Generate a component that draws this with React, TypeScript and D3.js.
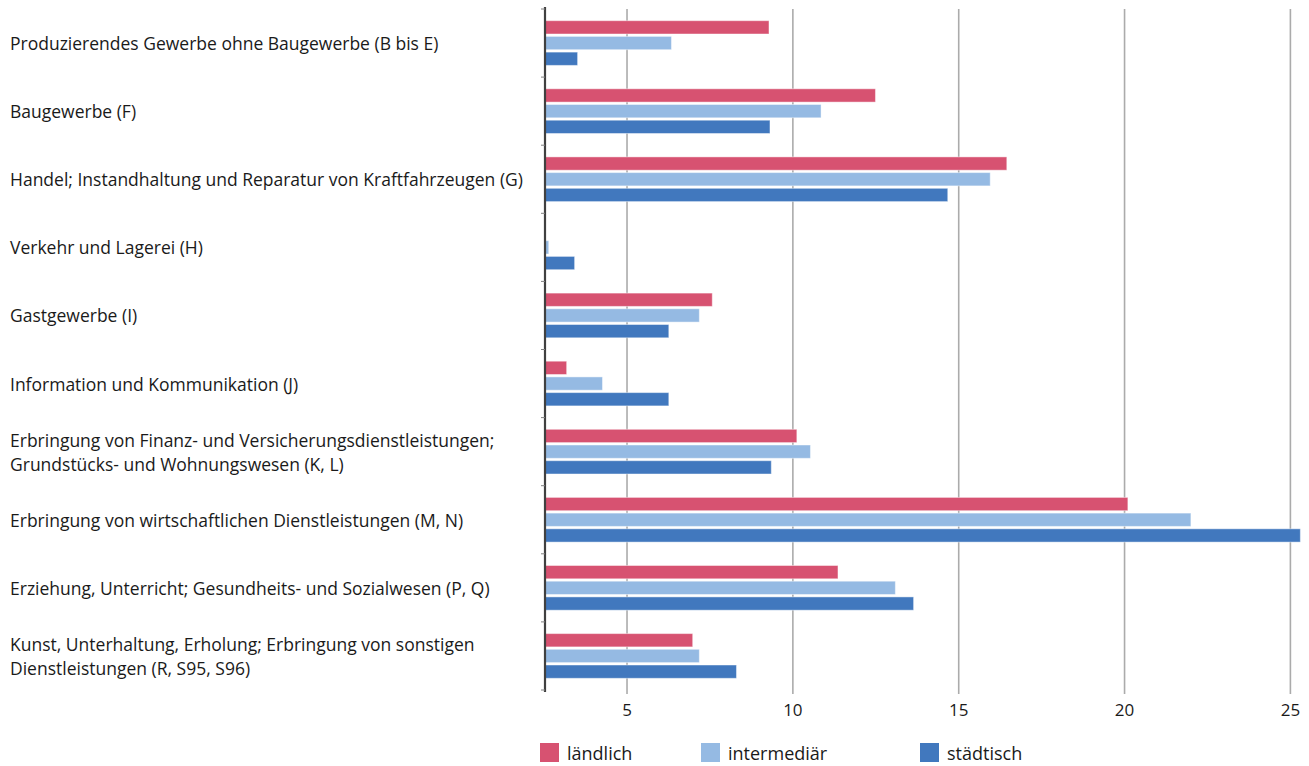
import React from "react";
import * as d3 from "d3";

const categories: string[][] = [
  ["Produzierendes Gewerbe ohne Baugewerbe (B bis E)"],
  ["Baugewerbe (F)"],
  ["Handel; Instandhaltung und Reparatur von Kraftfahrzeugen (G)"],
  ["Verkehr und Lagerei (H)"],
  ["Gastgewerbe (I)"],
  ["Information und Kommunikation (J)"],
  ["Erbringung von Finanz- und Versicherungsdienstleistungen;", "Grundstücks- und Wohnungswesen (K, L)"],
  ["Erbringung von wirtschaftlichen Dienstleistungen (M, N)"],
  ["Erziehung, Unterricht; Gesundheits- und Sozialwesen (P, Q)"],
  ["Kunst, Unterhaltung, Erholung; Erbringung von sonstigen", "Dienstleistungen (R, S95, S96)"],
];

const seriesNames = ["ländlich", "intermediär", "städtisch"];
const seriesColors = ["#D75271", "#95BAE3", "#4178BE"];

const laendlich = [9.28, 12.49, 16.45, 2.3, 7.57, 3.18, 10.12, 20.1, 11.36, 6.98];
const intermediaer = [6.34, 10.85, 15.95, 2.64, 7.18, 4.26, 10.53, 22.0, 13.09, 7.18];
const staedtisch = [3.51, 9.31, 14.67, 3.42, 6.26, 6.26, 9.35, 25.3, 13.64, 8.3];

const xTicks = [5, 10, 15, 20, 25];

const W = 1309;
const H = 766;
const FONT = "'Open Sans', 'Noto Sans', sans-serif";

export default function App() {
  const values = [laendlich, intermediaer, staedtisch];
  const xMin = 2.5;
  const x = d3.scaleLinear().domain([xMin, 25]).range([544.1, 1290.4]);
  const y = d3
    .scaleBand<number>()
    .domain(d3.range(categories.length))
    .range([9, 690])
    .paddingInner(0)
    .paddingOuter(0);
  const inner = d3
    .scaleBand<number>()
    .domain([0, 1, 2])
    .range([0, y.bandwidth()])
    .paddingInner(0.153)
    .paddingOuter(0.745);

  const legendX = [540, 701, 920];

  return (
    <svg
      width={W}
      height={H}
      style={{ position: "absolute", left: 0, top: 0, background: "#fff" }}
      fontFamily={FONT}
    >
      {/* gridlines */}
      {xTicks.map((t) => (
        <line
          key={"g" + t}
          x1={x(t)}
          x2={x(t)}
          y1={9}
          y2={694}
          stroke="#ABABAB"
          strokeWidth={1.6}
        />
      ))}
      {/* bars */}
      {categories.map((_, i) =>
        values.map((arr, s) => {
          const v = arr[i];
          if (v <= xMin) return null;
          return (
            <rect
              key={`b${i}-${s}`}
              x={x(xMin)}
              y={(y(i) as number) + (inner(s) as number)}
              width={x(v) - x(xMin)}
              height={inner.bandwidth()}
              fill={seriesColors[s]}
              stroke="#ffffff"
              strokeOpacity={0.45}
              strokeWidth={1}
            />
          );
        })
      )}
      {/* y axis line */}
      <line x1={545} x2={545} y1={7} y2={692} stroke="#404040" strokeWidth={2.2} />
      {d3.range(categories.length + 1).map((i) => {
        const yy = 9 + i * y.step();
        return <line key={"yt" + i} x1={541} x2={545} y1={yy} y2={yy} stroke="#808080" strokeWidth={1} />;
      })}
      {/* category labels */}
      {categories.map((lines, i) => {
        const cy = (y(i) as number) + y.bandwidth() / 2;
        const lh = 24;
        const start = cy - ((lines.length - 1) * lh) / 2;
        return (
          <text key={"c" + i} x={10} fontSize={17.5} fill="#1a1a1a" dominantBaseline="central">
            {lines.map((l, k) => (
              <tspan key={k} x={10} y={start + k * lh}>
                {l}
              </tspan>
            ))}
          </text>
        );
      })}
      {/* x tick labels */}
      {xTicks.map((t) => (
        <text
          key={"t" + t}
          x={x(t)}
          y={709}
          textAnchor="middle"
          dominantBaseline="central"
          fontSize={17}
          fill="#1a1a1a"
        >
          {t}
        </text>
      ))}
      {/* legend */}
      {seriesNames.map((n, s) => (
        <g key={"l" + s}>
          <rect x={legendX[s]} y={743} width={19} height={19} fill={seriesColors[s]} />
          <text
            x={legendX[s] + 27}
            y={752.5}
            dominantBaseline="central"
            fontSize={18}
            fill="#1a1a1a"
          >
            {n}
          </text>
        </g>
      ))}
    </svg>
  );
}
